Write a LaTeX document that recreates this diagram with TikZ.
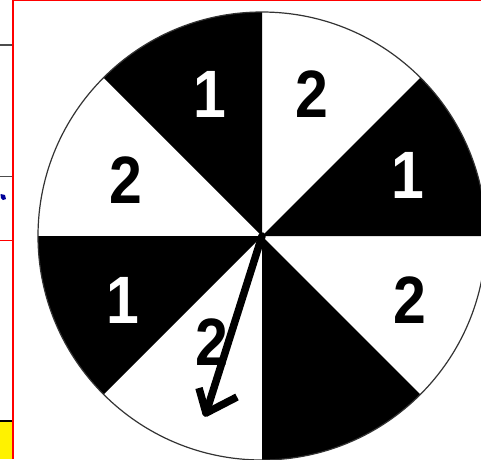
\documentclass[tikz,border=0pt]{standalone}
\usepackage{fontspec}
\setmainfont{Liberation Sans}
\begin{document}
\begin{tikzpicture}[x=1pt,y=-1pt,
  lbl/.style={inner sep=0pt,font=\fontsize{67}{67}\selectfont\bfseries,xscale=0.88},
  pointer/.style={line width=7.5pt,line cap=round,line join=round}]
\useasboundingbox (0,0) rectangle (481,459);
\clip (0,0) rectangle (481,459);
\fill[white] (0,0) rectangle (481,459);
\coordinate (c) at (262,236);
% sectors
\foreach \a in {0,90,180,270}{
  \fill[black] (c) -- ++(\a:224 and -224) arc[start angle=\a,end angle=\a+45,x radius=224,y radius=-224] -- cycle;
}
\draw[line width=1.2pt,black!80] (c) circle[radius=224];
% labels
\node[lbl,text=white] (l1) at (408,175) {1};
\node[lbl] (l2) at (312,94) {2};
\node[lbl,text=white] (l3) at (210,94) {1};
\node[lbl] (l4) at (126,180) {2};
\node[lbl,text=white] (l5) at (123,300) {1};
\node[lbl] (l6) at (410,300) {2};
\node[lbl] (l7) at (212,342) {2};
% pointer
\coordinate (tip) at (206,413);
\coordinate (b1) at (199,388);
\coordinate (b2) at (237,397);
\draw[pointer] (c) -- (tip);
\draw[pointer,line cap=butt] (b1) -- (tip) -- (b2);
% left page fragments
\draw[red,line width=1.5pt] (12.8,0) -- (12.8,459);
\draw[red,line width=1.5pt] (12,0.5) -- (481,0.5);
\draw[black!70,line width=1.2pt] (0,45) -- (12,45);
\draw[black!70,line width=1pt] (0,176) -- (12,176);
\draw[red,line width=1pt] (0,240) -- (12,240);
\fill[blue!60!black] (0.5,194) -- (5,195) -- (6,199) -- (3,200) -- (1,198) -- cycle;
\draw[black,line width=1.5pt] (0,421) -- (12,421);
\fill[yellow] (0,422) rectangle (12,459);
\end{tikzpicture}
\end{document}
